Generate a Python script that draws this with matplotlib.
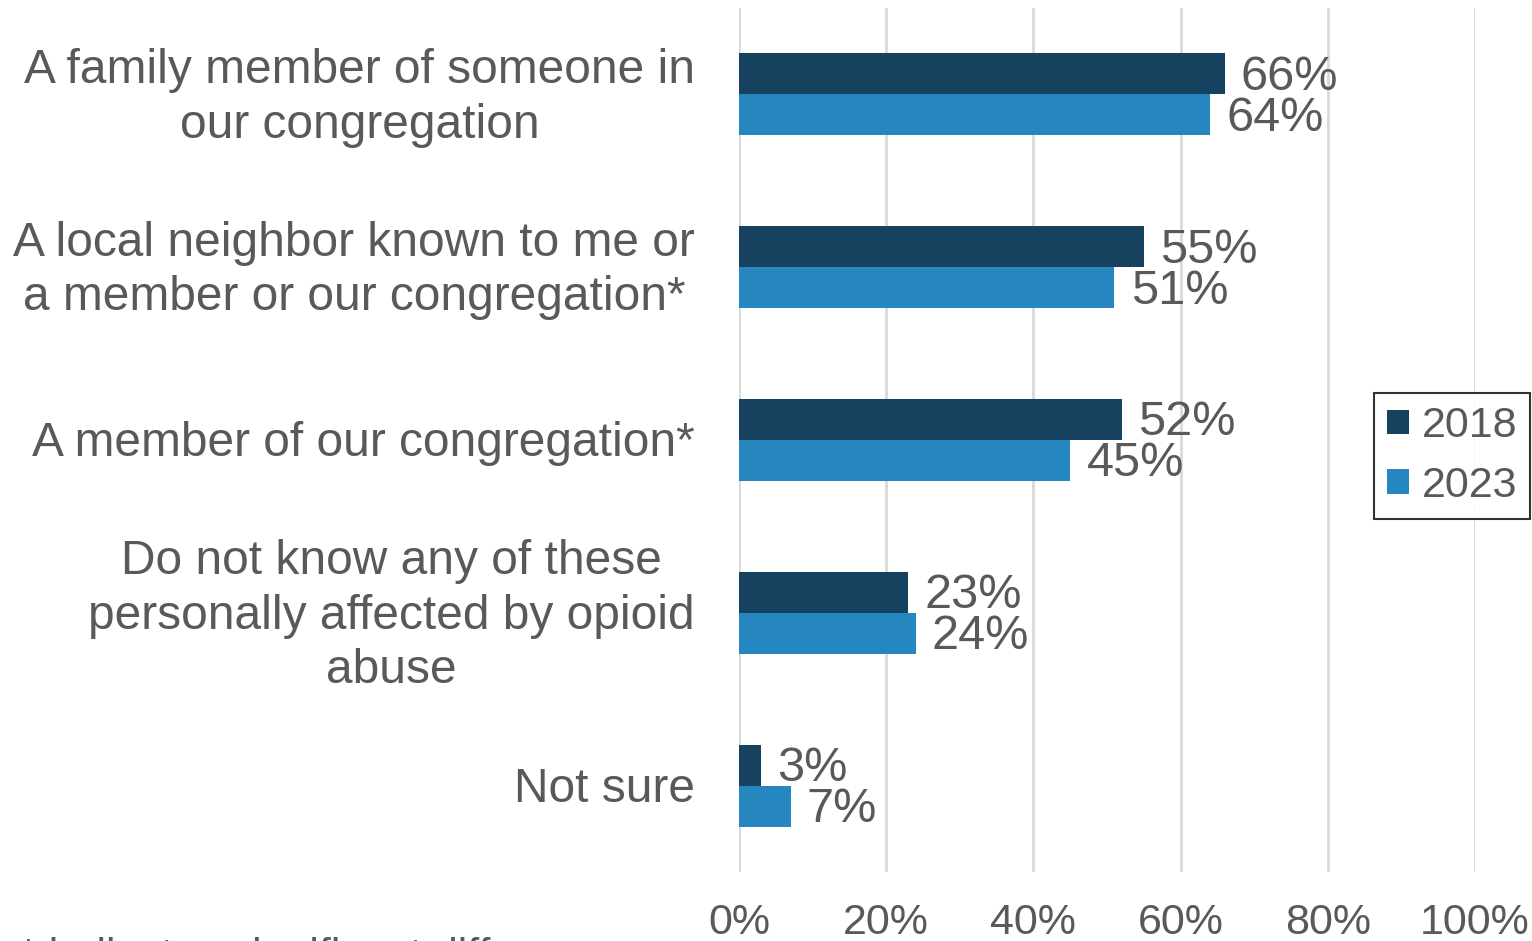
import matplotlib.pyplot as plt
import matplotlib.transforms as mtransforms
import numpy as np

plt.rcParams['font.family'] = ['Liberation Sans', 'DejaVu Sans']

categories = [
    "A family member of someone in\nour congregation",
    "A local neighbor known to me or\na member or our congregation*",
    "A member of our congregation*",
    "Do not know any of these\npersonally affected by opioid\nabuse",
    "Not sure",
]
vals_2018 = [66, 55, 52, 23, 3]
vals_2023 = [64, 51, 45, 24, 7]

c2018 = "#16425f"
c2023 = "#2586c0"
grey = "#595959"

fig = plt.figure(figsize=(15.32, 9.41), dpi=100)
ax = fig.add_axes([0.4824, 0.0733, 0.4804, 0.9182])

y = np.arange(len(categories))
h = 0.237
b1 = ax.barh(y - h / 2, vals_2018, height=h, color=c2018, label="2018", zorder=3)
b2 = ax.barh(y + h / 2, vals_2023, height=h, color=c2023, label="2023", zorder=3)

for bars, vals, dy in [(b1, vals_2018, 0.02), (b2, vals_2023, 0.02)]:
    for rect, v in zip(bars, vals):
        ax.text(v + 2.2, rect.get_y() + rect.get_height() / 2 + dy, f"{v}%",
                va="center", ha="left", fontsize=35, color=grey)

ax.set_xlim(0, 100)
ax.set_ylim(4.5, -0.5)
ax.set_xticks(np.arange(0, 101, 20))
ax.set_xticklabels([f"{t}%" for t in range(0, 101, 20)], fontsize=31, color=grey)
ax.set_yticks(y)
ax.set_yticklabels([])

# Kategorien als eigene Texte
trans = ax.get_yaxis_transform() + mtransforms.ScaledTranslation(-44 / 100, -3.5 / 100, fig.dpi_scale_trans)
for yi, cat in zip(y, categories):
    ax.text(0, yi, cat, transform=trans, ha="right", va="center",
            multialignment="center", linespacing=1.27, fontsize=34.5, color=grey)

ax.tick_params(axis="y", length=0)
ax.tick_params(axis="x", length=0, pad=22)
ax.xaxis.grid(True, color="#d9d9d9", linewidth=2, zorder=0)
for s in ax.spines.values():
    s.set_visible(False)

leg = ax.legend(loc="center right", bbox_to_anchor=(0.9987, 1 - 456 / 941),
                bbox_transform=fig.transFigure, fontsize=31,
                labelcolor=grey, frameon=True, fancybox=False, edgecolor="black",
                handlelength=0.5, handleheight=0.5, handletextpad=0.3,
                borderpad=0.3, labelspacing=0.45, borderaxespad=0)
leg.get_frame().set_linewidth(1.5)

fig.text(0.013, 1 - 937 / 941, "* indicates significant difference", fontsize=31,
         color=grey, va="top", ha="left")

fig.savefig("out.png", dpi=100)
